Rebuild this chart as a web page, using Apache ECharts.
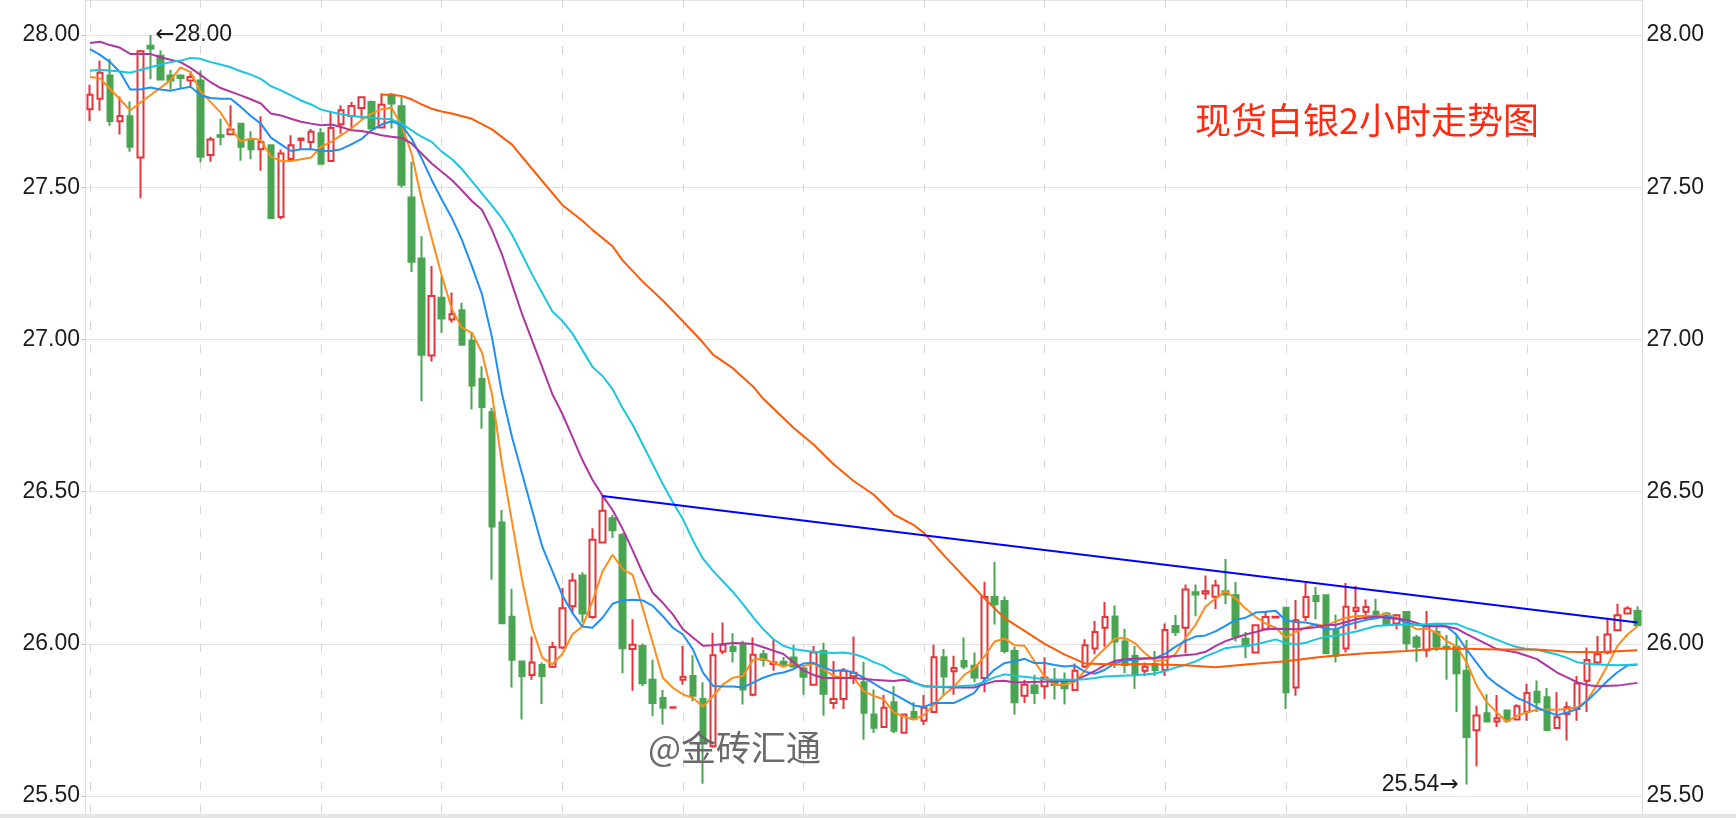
<!DOCTYPE html>
<html>
<head>
<meta charset="utf-8">
<title>现货白银2小时走势图</title>
<script src="https://cdn.jsdelivr.net/npm/echarts@6/dist/echarts.min.js"></script>
<style>
  html, body { margin: 0; padding: 0; background: #fff; }
  #kChart { width: 1736px; height: 818px; }
</style>
</head>
<body>
<div id="kChart"></div>
<script>
// K线：开、收、低、高
const opens = [
  27.756,27.791,27.867,27.717,27.733,27.598,27.965,27.932,27.867,27.867,
  27.851,27.851,27.606,27.671,27.674,27.709,27.657,27.625,27.638,27.402,
  27.593,27.655,27.649,27.677,27.586,27.707,27.734,27.760,27.780,27.696,
  27.804,27.766,27.466,27.266,26.947,27.137,27.066,27.096,26.996,26.870,
  26.761,26.399,26.089,25.942,25.898,25.931,25.925,25.988,26.124,26.225,
  26.088,26.333,26.413,26.358,25.983,25.993,25.882,25.822,25.790,25.882,
  25.895,25.819,25.664,25.975,25.991,25.997,25.833,25.966,25.934,25.941,
  25.955,25.919,25.866,25.977,25.806,25.819,25.894,25.874,25.768,25.727,
  25.808,25.708,25.776,25.748,25.776,25.956,25.910,25.944,25.928,25.888,
  26.154,26.141,25.977,25.830,25.863,25.861,25.881,25.874,25.849,25.926,
  25.985,26.053,26.090,26.008,25.961,25.912,25.934,25.914,26.059,26.053,
  26.170,26.166,26.155,26.173,26.160,26.017,25.972,26.048,26.087,26.119,
  25.857,26.088,26.157,26.160,26.045,25.985,26.108,26.106,26.106,26.100,
  26.067,26.105,26.021,25.980,26.039,25.991,25.991,25.912,25.716,25.772,
  25.745,25.781,25.752,25.777,25.843,25.825,25.724,25.770,25.786,25.879,
  25.939,25.972,26.045,26.100,26.108
];
const closes = [
  27.804,27.876,27.718,27.734,27.633,27.947,27.956,27.854,27.851,27.859,
  27.862,27.600,27.657,27.666,27.690,27.633,27.625,27.649,27.399,27.611,
  27.638,27.660,27.682,27.577,27.695,27.753,27.767,27.796,27.693,27.771,
  27.775,27.508,27.255,26.950,27.143,27.069,27.083,26.983,26.849,26.778,
  26.386,26.068,25.948,25.895,25.939,25.895,25.990,26.117,26.208,26.100,
  26.342,26.437,26.373,25.986,25.997,25.871,25.806,25.790,25.792,25.892,
  25.830,25.675,25.963,25.997,25.977,25.850,25.964,25.948,25.939,25.933,
  25.926,25.892,25.972,25.836,25.819,25.912,25.905,25.774,25.725,25.790,
  25.715,25.768,25.754,25.790,25.956,25.893,25.921,25.926,25.890,26.154,
  26.130,25.977,25.808,25.866,25.839,25.890,25.865,25.854,25.912,25.996,
  26.039,26.088,26.008,25.931,25.901,25.925,25.914,26.046,26.039,26.179,
  26.162,26.173,26.192,26.162,26.024,25.993,26.061,26.088,26.089,25.841,
  26.078,26.154,26.141,25.969,25.961,26.122,26.119,26.121,26.091,26.064,
  26.094,26.002,25.991,26.057,25.991,25.985,25.904,25.694,25.765,25.745,
  25.756,25.748,25.795,25.839,25.808,25.717,25.759,25.792,25.870,25.947,
  25.966,26.031,26.094,26.116,26.061
];
const lows = [
  27.718,27.751,27.702,27.673,27.617,27.464,27.856,27.851,27.821,27.826,
  27.832,27.582,27.584,27.638,27.674,27.587,27.592,27.554,27.399,27.395,
  27.590,27.625,27.625,27.574,27.584,27.676,27.695,27.725,27.691,27.693,
  27.693,27.499,27.222,26.797,26.928,27.021,27.056,26.983,26.770,26.707,
  26.211,26.068,25.857,25.752,25.882,25.803,25.921,25.983,26.100,26.070,
  26.083,26.331,26.348,25.904,25.846,25.861,25.762,25.735,25.789,25.866,
  25.812,25.541,25.659,25.966,25.939,25.801,25.828,25.926,25.912,25.924,
  25.922,25.833,25.866,25.764,25.786,25.786,25.868,25.685,25.707,25.724,
  25.707,25.708,25.754,25.734,25.774,25.830,25.833,25.917,25.874,25.841,
  26.064,25.969,25.768,25.806,25.803,25.819,25.817,25.801,25.849,25.921,
  25.966,25.991,25.921,25.904,25.852,25.895,25.895,25.895,26.026,25.969,
  26.091,26.146,26.115,26.130,26.008,25.953,25.972,26.045,26.086,25.786,
  25.830,26.075,26.081,25.969,25.939,25.972,26.048,26.075,26.086,26.061,
  26.048,25.979,25.941,25.956,25.977,25.882,25.776,25.538,25.598,25.743,
  25.727,25.741,25.752,25.748,25.776,25.717,25.724,25.683,25.748,25.776,
  25.934,25.966,26.043,26.097,26.059
];
const highs = [
  27.837,27.916,27.922,27.798,27.782,27.951,28.000,27.949,27.886,27.867,
  27.881,27.883,27.666,27.725,27.769,27.709,27.684,27.733,27.638,27.624,
  27.671,27.660,27.691,27.694,27.749,27.769,27.780,27.796,27.785,27.809,
  27.810,27.796,27.584,27.339,27.241,27.208,27.154,27.121,27.023,26.912,
  26.776,26.440,26.181,25.942,26.024,25.939,26.007,26.184,26.233,26.235,
  26.380,26.486,26.424,26.364,26.081,26.001,25.948,25.849,25.793,25.993,
  25.963,25.874,26.037,26.070,26.035,26.010,26.021,25.980,26.015,25.957,
  25.997,25.930,25.993,26.004,25.944,25.921,26.024,25.941,25.850,25.833,
  25.862,25.768,25.808,25.832,25.997,25.983,25.961,26.021,25.972,26.204,
  26.269,26.156,25.991,25.882,25.899,25.956,25.921,25.906,25.936,26.015,
  26.075,26.138,26.126,26.050,25.993,25.939,25.977,26.067,26.095,26.195,
  26.195,26.225,26.211,26.279,26.203,26.039,26.061,26.105,26.090,26.119,
  26.144,26.200,26.187,26.160,26.097,26.200,26.190,26.146,26.148,26.105,
  26.094,26.105,26.029,26.108,26.069,26.029,26.029,26.013,25.797,25.835,
  25.832,25.781,25.802,25.869,25.880,25.855,25.841,25.810,25.895,25.988,
  26.026,26.086,26.132,26.124,26.124
];

// 均线 [K线序号, 值]
const ma5 = [[0,27.862],[1,27.858],[4,27.753],[6,27.802],[8,27.851],[9,27.894],[10,27.878],[11,27.815],[13,27.745],[14,27.693],[15,27.651],[16,27.660],[17,27.655],[18,27.600],[19,27.587],[20,27.586],[22,27.598],[23,27.633],[24,27.649],[25,27.671],[26,27.693],[27,27.720],[28,27.742],[29,27.756],[30,27.761],[31,27.704],[32,27.611],[33,27.460],[34,27.333],[35,27.210],[36,27.100],[37,27.039],[38,27.022],[39,26.957],[40,26.821],[41,26.590],[42,26.400],[43,26.210],[44,26.053],[45,25.955],[46,25.933],[47,25.966],[48,26.031],[49,26.058],[50,26.140],[51,26.238],[52,26.293],[53,26.246],[54,26.227],[55,26.118],[56,26.004],[57,25.889],[58,25.856],[59,25.834],[60,25.823],[61,25.794],[62,25.829],[63,25.867],[64,25.889],[65,25.895],[66,25.949],[67,25.951],[68,25.938],[69,25.925],[70,25.936],[71,25.927],[72,25.935],[73,25.917],[74,25.895],[75,25.889],[76,25.889],[77,25.845],[78,25.829],[79,25.818],[80,25.774],[81,25.762],[82,25.751],[83,25.767],[84,25.800],[85,25.833],[86,25.860],[87,25.898],[88,25.920],[89,25.958],[90,26.007],[91,26.018],[92,25.996],[93,25.994],[94,25.942],[95,25.893],[96,25.865],[97,25.865],[98,25.876],[99,25.911],[100,25.953],[101,25.985],[102,26.018],[103,26.020],[104,26.002],[105,25.969],[106,25.944],[107,25.947],[108,25.966],[109,26.018],[110,26.062],[111,26.122],[112,26.149],[113,26.173],[114,26.149],[115,26.116],[116,26.089],[117,26.067],[118,26.053],[119,26.020],[120,26.040],[121,26.053],[122,26.064],[123,26.059],[124,26.075],[125,26.086],[126,26.092],[128,26.092],[129,26.099],[130,26.086],[131,26.070],[132,26.048],[133,26.050],[134,26.037],[135,26.010],[136,25.991],[137,25.939],[138,25.863],[139,25.808],[140,25.775],[141,25.745],[142,25.764],[143,25.775],[144,25.784],[145,25.784],[146,25.784],[147,25.786],[148,25.792],[149,25.814],[150,25.868],[151,25.928],[152,25.993],[153,26.031],[154,26.058]];
const ma10 = [[0,27.954],[1,27.935],[2,27.911],[3,27.878],[4,27.821],[5,27.821],[6,27.828],[7,27.821],[8,27.817],[9,27.824],[10,27.830],[11,27.802],[12,27.793],[13,27.791],[14,27.791],[15,27.764],[16,27.734],[17,27.709],[18,27.663],[19,27.641],[20,27.619],[21,27.625],[22,27.625],[23,27.620],[24,27.619],[25,27.625],[26,27.641],[27,27.658],[28,27.687],[29,27.706],[30,27.717],[31,27.704],[32,27.660],[33,27.595],[34,27.524],[35,27.460],[36,27.400],[37,27.328],[38,27.241],[39,27.149],[40,27.007],[41,26.821],[42,26.679],[43,26.559],[44,26.439],[45,26.320],[46,26.240],[47,26.160],[48,26.102],[49,26.057],[50,26.053],[51,26.086],[52,26.132],[53,26.143],[54,26.145],[55,26.143],[56,26.125],[57,26.091],[58,26.053],[59,26.031],[60,25.982],[61,25.906],[62,25.862],[63,25.860],[64,25.860],[65,25.857],[66,25.873],[67,25.889],[68,25.900],[69,25.906],[70,25.917],[71,25.936],[72,25.938],[73,25.922],[74,25.911],[75,25.914],[76,25.906],[77,25.889],[78,25.870],[79,25.850],[80,25.835],[81,25.817],[82,25.798],[83,25.793],[84,25.806],[85,25.806],[86,25.806],[87,25.822],[88,25.839],[89,25.882],[90,25.915],[91,25.937],[92,25.942],[93,25.951],[94,25.937],[95,25.937],[96,25.931],[97,25.926],[98,25.929],[99,25.909],[100,25.902],[101,25.915],[102,25.937],[103,25.946],[104,25.948],[105,25.951],[106,25.953],[107,25.968],[108,25.990],[109,26.010],[110,26.024],[111,26.028],[112,26.041],[113,26.059],[114,26.079],[115,26.086],[116,26.103],[117,26.106],[118,26.109],[119,26.077],[120,26.072],[121,26.070],[122,26.063],[123,26.048],[124,26.048],[125,26.062],[126,26.070],[127,26.079],[128,26.084],[129,26.092],[130,26.084],[131,26.070],[132,26.062],[133,26.059],[134,26.066],[135,26.057],[136,26.030],[137,25.981],[138,25.938],[139,25.894],[140,25.867],[141,25.845],[142,25.823],[143,25.809],[144,25.791],[145,25.777],[146,25.766],[147,25.775],[148,25.786],[149,25.813],[150,25.845],[151,25.878],[152,25.907],[153,25.929],[154,25.932]];
const ma20 = [[0,27.974],[1,27.978],[2,27.967],[3,27.958],[4,27.938],[6,27.938],[7,27.927],[9,27.911],[10,27.892],[11,27.869],[12,27.845],[13,27.826],[15,27.802],[16,27.789],[17,27.775],[18,27.742],[19,27.736],[20,27.725],[21,27.715],[22,27.709],[23,27.704],[24,27.706],[25,27.698],[26,27.687],[27,27.685],[28,27.679],[29,27.671],[30,27.666],[31,27.662],[32,27.644],[33,27.611],[34,27.578],[35,27.551],[36,27.524],[37,27.490],[38,27.455],[39,27.426],[40,27.360],[41,27.279],[42,27.181],[43,27.083],[44,26.996],[45,26.909],[46,26.821],[47,26.756],[48,26.680],[49,26.604],[50,26.539],[51,26.487],[52,26.440],[53,26.378],[54,26.307],[55,26.233],[56,26.168],[57,26.135],[58,26.097],[59,26.048],[60,26.021],[61,25.994],[62,25.996],[63,26.000],[64,26.003],[65,26.002],[66,26.000],[67,25.989],[68,25.978],[69,25.967],[70,25.940],[71,25.913],[72,25.898],[73,25.888],[76,25.888],[77,25.885],[78,25.882],[79,25.880],[80,25.878],[81,25.882],[82,25.873],[83,25.862],[84,25.859],[86,25.857],[88,25.857],[89,25.868],[90,25.877],[91,25.879],[92,25.873],[98,25.879],[99,25.895],[100,25.911],[101,25.930],[102,25.944],[103,25.950],[104,25.952],[106,25.954],[108,25.960],[110,25.966],[111,25.974],[112,25.993],[113,26.009],[114,26.020],[115,26.031],[116,26.039],[117,26.048],[118,26.050],[120,26.048],[122,26.055],[123,26.061],[124,26.063],[126,26.081],[127,26.086],[128,26.090],[129,26.086],[131,26.079],[133,26.059],[135,26.057],[136,26.050],[137,26.032],[138,26.016],[139,25.999],[140,25.983],[142,25.972],[143,25.961],[144,25.950],[145,25.928],[146,25.906],[147,25.890],[148,25.874],[149,25.865],[150,25.861],[152,25.863],[154,25.872]];
const ma30 = [[0,27.883],[1,27.886],[3,27.880],[4,27.876],[6,27.894],[8,27.911],[9,27.916],[10,27.925],[11,27.922],[12,27.911],[13,27.903],[14,27.894],[15,27.881],[16,27.870],[17,27.856],[18,27.832],[19,27.818],[20,27.802],[21,27.785],[22,27.772],[23,27.755],[24,27.747],[25,27.740],[26,27.734],[27,27.731],[28,27.728],[29,27.725],[30,27.723],[31,27.709],[32,27.687],[33,27.666],[34,27.649],[35,27.617],[36,27.593],[37,27.560],[38,27.520],[39,27.480],[40,27.440],[41,27.398],[42,27.344],[43,27.279],[44,27.213],[45,27.153],[46,27.093],[47,27.061],[48,27.020],[49,26.965],[50,26.910],[51,26.880],[52,26.837],[53,26.775],[54,26.720],[55,26.655],[56,26.590],[57,26.525],[58,26.465],[59,26.410],[60,26.340],[61,26.280],[62,26.240],[63,26.205],[64,26.170],[65,26.130],[66,26.087],[67,26.048],[68,26.016],[69,25.994],[70,25.983],[71,25.978],[72,25.974],[73,25.972],[74,25.970],[75,25.972],[76,25.967],[77,25.956],[78,25.940],[79,25.928],[80,25.906],[81,25.895],[82,25.873],[83,25.860],[84,25.859],[86,25.860],[88,25.864],[89,25.875],[90,25.890],[91,25.900],[92,25.895],[93,25.892],[94,25.888],[95,25.884],[97,25.882],[98,25.882],[99,25.884],[100,25.888],[101,25.893],[102,25.895],[104,25.897],[106,25.903],[107,25.911],[108,25.922],[109,25.931],[110,25.942],[111,25.959],[112,25.972],[113,25.986],[114,25.991],[115,25.993],[116,25.999],[117,26.006],[118,26.015],[119,26.002],[120,25.999],[121,26.004],[122,26.015],[123,26.024],[124,26.027],[126,26.041],[128,26.059],[130,26.063],[132,26.063],[134,26.066],[136,26.066],[137,26.052],[138,26.041],[139,26.027],[140,26.014],[141,26.001],[142,25.990],[143,25.983],[144,25.981],[146,25.965],[147,25.954],[148,25.940],[149,25.935],[150,25.932],[152,25.930],[154,25.932]];
const ma60 = [[29,27.804],[30,27.804],[31,27.800],[32,27.789],[33,27.772],[34,27.758],[35,27.749],[36,27.742],[38,27.725],[40,27.690],[42,27.640],[44,27.560],[47,27.442],[49,27.390],[50,27.360],[52,27.306],[53,27.260],[55,27.190],[57,27.128],[59,27.060],[61,26.990],[62,26.950],[64,26.905],[66,26.845],[67,26.805],[69,26.742],[70,26.710],[72,26.655],[74,26.590],[76,26.535],[78,26.490],[80,26.425],[82,26.390],[83,26.364],[85,26.290],[88,26.185],[89,26.150],[91,26.085],[93,26.043],[95,26.000],[97,25.965],[99,25.936],[102,25.932],[105,25.934],[109,25.930],[112,25.923],[115,25.932],[119,25.943],[122,25.955],[124,25.962],[127,25.969],[131,25.977],[134,25.984],[137,25.984],[140,25.982],[144,25.982],[147,25.974],[150,25.973],[154,25.979]];

// 下降趋势线（起点为第51根K线的最高点）
const trendLine = [[51, 26.486], [154, 26.070]];
// 每日分隔虚线所在的K线序号
const dayLines = [0, 11, 23, 35, 47, 59, 71, 83, 95, 107, 119, 131, 143];

const titleText = '现货白银2小时走势图';
const markText = '@金砖汇通';

const categories = opens.map((v, i) => String(i));
const candles = opens.map((o, i) => [o, closes[i], lows[i], highs[i]]);

const maxHigh = Math.max.apply(null, highs);
const maxIdx = highs.indexOf(maxHigh);
const minLow = Math.min.apply(null, lows);
const minIdx = lows.indexOf(minLow);

const numFont = '"Liberation Sans", Arial, sans-serif';
const cjkFont = '"Noto Sans CJK SC", sans-serif';

function maLine(name, data, color) {
  return {
    name: name,
    type: 'line',
    data: data,
    symbol: 'none',
    silent: true,
    z: 3,
    lineStyle: { width: 2, color: color },
    itemStyle: { color: color }
  };
}

const chart = echarts.init(document.getElementById('kChart'));

const yRange = { min: 25.4413, max: 28.1151 };

const option = {
  animation: false,
  grid: { left: 85, right: 93.5, top: -6, bottom: 4 },
  xAxis: {
    type: 'category',
    data: categories,
    boundaryGap: true,
    axisLine: { show: false },
    axisTick: { show: false },
    axisLabel: { show: false },
    splitLine: {
      show: true,
      alignWithLabel: true,
      interval: (idx) => dayLines.indexOf(idx) >= 0,
      lineStyle: { color: '#d6d6d6', width: 1, type: [8, 15] }
    }
  },
  yAxis: [
    {
      type: 'value',
      position: 'left',
      min: yRange.min,
      max: yRange.max,
      axisLine: { show: true, lineStyle: { color: '#dddddd' } },
      axisTick: { show: true, length: 3, lineStyle: { color: '#bbbbbb' } },
      axisLabel: {
        margin: 5,
        fontSize: 23,
        fontFamily: numFont,
        color: '#1c1c1c',
        showMinLabel: false,
        showMaxLabel: false,
        formatter: (v) => v.toFixed(2)
      },
      splitLine: { show: true, lineStyle: { color: '#e3e3e3', width: 1 } }
    },
    {
      type: 'value',
      position: 'right',
      min: yRange.min,
      max: yRange.max,
      axisLine: { show: true, lineStyle: { color: '#dddddd' } },
      axisTick: { show: false },
      axisLabel: {
        margin: 4,
        fontSize: 23,
        fontFamily: numFont,
        color: '#1c1c1c',
        showMinLabel: false,
        showMaxLabel: false,
        formatter: (v) => v.toFixed(2)
      },
      splitLine: { show: false }
    }
  ],
  series: [
    {
      name: 'K',
      type: 'candlestick',
      data: candles,
      barWidth: 6,
      z: 2,
      itemStyle: {
        color: '#ffffff',
        color0: '#4aa552',
        borderColor: '#e5343b',
        borderColor0: '#4aa552',
        borderWidth: 2
      },
      markPoint: {
        symbol: 'circle',
        symbolSize: 0,
        label: {
          show: true,
          color: '#1c1c1c',
          formatter: (p) => p.name,
          rich: {
            arr: { fontSize: 23, fontFamily: '"DejaVu Sans"', color: '#1c1c1c' },
            num: { fontSize: 23, fontFamily: numFont, color: '#1c1c1c' }
          }
        },
        data: [
          { name: '{arr|←}{num|' + maxHigh.toFixed(2) + '}', coord: [maxIdx, maxHigh], label: { position: 'right', distance: 5 } },
          { name: '{num|' + minLow.toFixed(2) + '}{arr|→}', coord: [minIdx, minLow], label: { position: 'left', distance: 8 } }
        ]
      }
    },
    maLine('MA5', ma5, '#ff8c1a'),
    maLine('MA10', ma10, '#1e90f5'),
    maLine('MA20', ma20, '#b0359f'),
    maLine('MA30', ma30, '#19c6e0'),
    maLine('MA60', ma60, '#ff5a05'),
    {
      name: '趋势线',
      type: 'line',
      data: trendLine,
      symbol: 'none',
      silent: true,
      z: 4,
      lineStyle: { width: 2, color: '#0000ff' }
    }
  ],
  graphic: [
    {
      type: 'text',
      x: 1195,
      y: 120,
      z: 50,
      style: { text: titleText, font: '36px ' + cjkFont, fill: '#ff2a12', verticalAlign: 'middle' }
    },
    {
      type: 'text',
      x: 648,
      y: 748,
      z: 50,
      style: { text: markText, font: '35px ' + cjkFont, fill: '#6a6a6a', verticalAlign: 'middle' }
    },
    {
      type: 'rect',
      left: 0,
      bottom: 0,
      z: 60,
      shape: { width: 1736, height: 4 },
      style: { fill: '#e6e6e6' }
    }
  ]
};

chart.setOption(option);
</script>
</body>
</html>
